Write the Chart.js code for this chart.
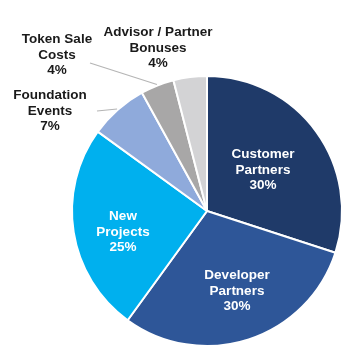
<!DOCTYPE html>
<html>
<head>
<meta charset="utf-8">
<script src="https://cdn.jsdelivr.net/npm/chart.js@4.4.1/dist/chart.umd.min.js"></script>
<style>
  html, body { margin: 0; padding: 0; background: #fff; }
  #wrap { width: 355px; height: 351px; }
</style>
</head>
<body>
<div id="wrap"><canvas id="pie-canvas" width="355" height="351"></canvas></div>
<script>
const categories = [
  ["Customer", "Partners"],
  ["Developer", "Partners"],
  ["New", "Projects"],
  ["Foundation", "Events"],
  ["Token Sale", "Costs"],
  ["Advisor / Partner", "Bonuses"],
];
const shares = [30, 30, 25, 7, 4, 4];
const sliceColors = ["#1f3a69", "#2e5698", "#00b0ee", "#8faadb", "#a8a7a7", "#d3d3d5"];

// label placement, offsets from pie centre (px); lead = leader line end
const labelLayout = [
  { dx: 56, dy: -41, color: "#fff" },
  { dx: 30, dy: 80, color: "#fff" },
  { dx: -84, dy: 21, color: "#fff" },
  { dx: -157, dy: -100, color: "#1a1a1a", lead: { dx: -110, dy: -100 } },
  { dx: -150, dy: -156, color: "#1a1a1a", lead: { dx: -117, dy: -148 } },
  { dx: -49, dy: -163, color: "#1a1a1a" },
];

const sliceLabels = {
  id: "sliceLabels",
  afterDatasetsDraw(chart) {
    const ctx = chart.ctx;
    const arcs = chart.getDatasetMeta(0).data;
    ctx.save();
    arcs.forEach((arc, i) => {
      const cx = arc.x, cy = arc.y;
      const lay = labelLayout[i];
      if (lay.lead) {
        const mid = (arc.startAngle + arc.endAngle) / 2;
        ctx.strokeStyle = "#b5b5b5";
        ctx.lineWidth = 1.2;
        ctx.beginPath();
        ctx.moveTo(cx + Math.cos(mid) * (arc.outerRadius + 1), cy + Math.sin(mid) * (arc.outerRadius + 1));
        ctx.lineTo(cx + lay.lead.dx, cy + lay.lead.dy);
        ctx.stroke();
      }
      const lines = categories[i].concat([shares[i] + "%"]);
      ctx.fillStyle = lay.color;
      ctx.font = "bold 13.5px 'Liberation Sans', Arial, sans-serif";
      ctx.textAlign = "center";
      ctx.textBaseline = "middle";
      const lh = 15.5;
      lines.forEach((t, k) => {
        ctx.fillText(t, cx + lay.dx, cy + lay.dy + (k - 1) * lh);
      });
    });
    ctx.restore();
  },
};

new Chart(document.getElementById("pie-canvas"), {
  type: "pie",
  data: {
    labels: categories.map((c) => c.join(" ")),
    datasets: [
      {
        data: shares,
        backgroundColor: sliceColors,
        borderColor: "#fff",
        borderWidth: 2,
      },
    ],
  },
  options: {
    responsive: false,
    animation: false,
    layout: { padding: { left: 71, right: 12, top: 75, bottom: 4 } },
    plugins: {
      legend: { display: false },
      tooltip: { enabled: false },
    },
  },
  plugins: [sliceLabels],
});
</script>
</body>
</html>
